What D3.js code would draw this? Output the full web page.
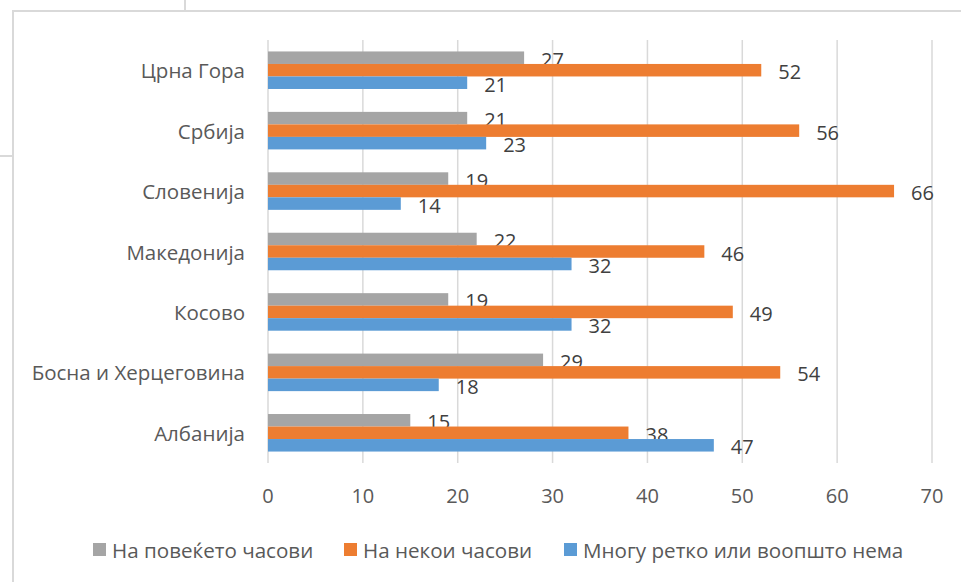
<!DOCTYPE html>
<html>
<head>
<meta charset="utf-8">
<script src="https://cdn.jsdelivr.net/npm/d3@7"></script>
<style>
  html, body { margin: 0; padding: 0; background: #fff; }
  svg { display: block; }
  text { font-family: "Open Sans", "Noto Sans", sans-serif; }
</style>
</head>
<body>
<svg id="chart" width="961" height="582"></svg>
<script>
// Countries, top to bottom
const categories = ["Црна Гора", "Србија", "Словенија", "Македонија", "Косово", "Босна и Херцеговина", "Албанија"];
// Series names (legend order = order of bars inside each group, top to bottom)
const seriesNames = ["На повеќето часови", "На некои часови", "Многу ретко или воопшто нема"];
const seriesColors = ["#a5a5a5", "#ed7d31", "#5b9bd5"];
// Values per series, aligned with categories
const mostHours  = [27, 21, 19, 22, 19, 29, 15];
const someHours  = [52, 56, 66, 46, 49, 54, 38];
const rarelyNone = [21, 23, 14, 32, 32, 18, 47];
const xTicks = [0, 10, 20, 30, 40, 50, 60, 70];

const series = [mostHours, someHours, rarelyNone];

const svg = d3.select("#chart");

// background frame lines
const frame = svg.append("g").attr("stroke", "#d9d9d9").attr("stroke-width", 2).attr("fill", "none");
frame.append("line").attr("x1", 13).attr("y1", 11).attr("x2", 961).attr("y2", 11);
frame.append("line").attr("x1", 13).attr("y1", 10).attr("x2", 13).attr("y2", 582);
frame.append("line").attr("x1", 185).attr("y1", 0).attr("x2", 185).attr("y2", 11);
frame.append("line").attr("x1", 0).attr("y1", 156).attr("x2", 13).attr("y2", 156);

const plot = { left: 268, right: 932, top: 40, bottom: 463 };

const x = d3.scaleLinear().domain([0, 70]).range([plot.left, plot.right]);
const y = d3.scaleBand().domain(categories).range([plot.top, plot.bottom]).padding(0);
const ySub = d3.scaleBand().domain(d3.range(series.length)).range([0, y.bandwidth()])
  .paddingInner(0).paddingOuter(0.915);

// gridlines
svg.append("g").selectAll("line").data(xTicks).join("line")
  .attr("x1", d => x(d)).attr("x2", d => x(d))
  .attr("y1", plot.top).attr("y2", plot.bottom)
  .attr("stroke", "#d9d9d9").attr("stroke-width", 1.5);

// x tick labels
svg.append("g").selectAll("text").data(xTicks).join("text")
  .attr("x", d => x(d)).attr("y", 495)
  .attr("text-anchor", "middle").attr("dominant-baseline", "central")
  .attr("font-size", 20).attr("fill", "#595959")
  .text(d => d);

// category labels
svg.append("g").selectAll("text").data(categories).join("text")
  .attr("x", 245).attr("y", d => y(d) + y.bandwidth() / 2)
  .attr("text-anchor", "end").attr("dominant-baseline", "central")
  .attr("font-size", 20.5).attr("fill", "#595959")
  .text(d => d);

// bars and value labels
series.forEach((vals, si) => {
  const g = svg.append("g");
  g.selectAll("rect").data(vals).join("rect")
    .attr("x", x(0))
    .attr("y", (d, i) => y(categories[i]) + ySub(si))
    .attr("width", d => x(d) - x(0))
    .attr("height", ySub.bandwidth())
    .attr("fill", seriesColors[si]);
  g.selectAll("text").data(vals).join("text")
    .attr("x", d => x(d) + 17)
    .attr("y", (d, i) => y(categories[i]) + ySub(si) + ySub.bandwidth() / 2 + 1.5)
    .attr("dominant-baseline", "central")
    .attr("font-size", 20).attr("fill", "#404040")
    .text(d => d);
});

// legend
const legendX = [93, 344, 564];
const legend = svg.append("g");
seriesNames.forEach((name, i) => {
  legend.append("rect").attr("x", legendX[i]).attr("y", 543).attr("width", 13).attr("height", 13)
    .attr("fill", seriesColors[i]);
  legend.append("text").attr("x", legendX[i] + 19).attr("y", 549.5)
    .attr("dominant-baseline", "central")
    .attr("font-size", 20.6).attr("fill", "#595959")
    .text(name);
});
</script>
</body>
</html>
